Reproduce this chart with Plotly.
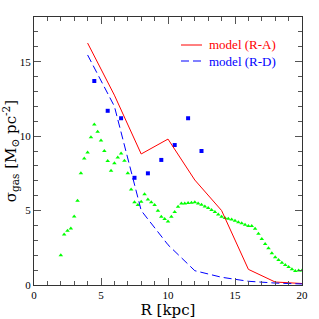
import plotly.graph_objects as go

model_x = [4, 6, 8, 10, 12, 14, 16, 18, 20]
model_ra = [16.25, 12.75, 8.8, 9.8, 7.05, 5.0, 1.05, 0.2, 0.1]
model_rd = [15.45, 12.0, 5.0, 2.7, 0.96, 0.52, 0.25, 0.13, 0.07]

obs_x = [4.5, 5.5, 6.5, 7.5, 8.5, 9.5, 10.5, 11.5, 12.5]
obs_y = [13.7, 11.7, 11.2, 7.2, 7.5, 8.4, 9.4, 11.2, 9.0]

tri_x = [2.0, 2.25, 2.5, 2.75, 3.0, 3.25, 3.5, 3.75, 4.0, 4.25, 4.5, 4.75,
         5.0, 5.25, 5.5, 5.75, 6.0, 6.25, 6.5, 6.75, 7.0, 7.25, 7.5, 7.75,
         8.0, 8.25, 8.5, 8.75, 9.0, 9.25, 9.5, 9.75, 10.0, 10.25, 10.5, 10.75,
         11.0, 11.25, 11.5, 11.75, 12.0, 12.25, 12.5, 12.75, 13.0, 13.25, 13.5, 13.75,
         14.0, 14.25, 14.5, 14.75, 15.0, 15.25, 15.5, 15.75, 16.0, 16.25, 16.5, 16.75,
         17.0, 17.25, 17.5, 17.75, 18.0, 18.25, 18.5, 18.75, 19.0, 19.25, 19.5, 19.75, 20.0]
tri_y = [2.0, 3.4, 3.65, 3.8, 4.6, 5.66, 7.5, 8.5, 8.9, 9.93, 10.78, 10.3,
         9.7, 9.0, 8.32, 7.67, 8.17, 8.57, 8.84, 8.34, 7.5, 6.42, 5.55, 5.37,
         5.59, 6.1, 5.75, 5.55, 5.37, 4.99, 4.59, 4.43, 4.27, 4.59, 4.9, 5.26,
         5.48, 5.48, 5.5, 5.53, 5.55, 5.48, 5.39, 5.28, 5.17, 5.03, 4.9, 4.74,
         4.59, 4.5, 4.45, 4.4, 4.32, 4.22, 4.14, 4.05, 3.96, 3.96, 3.78, 3.44,
         3.09, 2.75, 2.46, 2.13, 1.86, 1.68, 1.5, 1.34, 1.21, 1.05, 0.94, 0.97, 0.97]

legend_names = ["model (R-A)", "model (R-D)"]
legend_colors = ["#ff0000", "#0000ff"]

FONT = "Liberation Serif"
TFONT = "DejaVu Serif"

fig = go.Figure()
fig.add_trace(go.Scatter(x=tri_x, y=tri_y, mode="markers", showlegend=False,
                         marker=dict(symbol="triangle-up", size=4, color="#00ff00")))
fig.add_trace(go.Scatter(x=obs_x, y=obs_y, mode="markers", showlegend=False,
                         marker=dict(symbol="square", size=4, color="#0000ff")))
fig.add_trace(go.Scatter(x=model_x, y=model_ra, mode="lines", showlegend=False,
                         line=dict(color="#ff0000", width=1)))
fig.add_trace(go.Scatter(x=model_x, y=model_rd, mode="lines", showlegend=False,
                         line=dict(color="#0000ff", width=1, dash="8px,4px")))

# legend drawn in paper coordinates
L, R, T, B = 34, 302, 17, 285
W, H = R - L, B - T
def px(xp):
    return (xp - L) / W
def py(yp):
    return (B - yp) / H

dashes = ["solid", "8px,4px"]
for i, (nm, col) in enumerate(zip(legend_names, legend_colors)):
    yy = 45 + 16 * i
    fig.add_shape(type="line", xref="paper", yref="paper",
                  x0=px(181), x1=px(202), y0=py(yy), y1=py(yy),
                  line=dict(color=col, width=1, dash=dashes[i]))
    fig.add_annotation(xref="paper", yref="paper", x=px(207), y=py(yy),
                       xanchor="left", yanchor="middle", showarrow=False,
                       text=nm, font=dict(family=FONT, size=13, color=col))

axis_common = dict(showgrid=False, zeroline=False, showline=True, linecolor="#333",
                   linewidth=1, mirror="allticks", ticks="inside", ticklen=7,
                   tickcolor="#555", automargin=False,
                   tickfont=dict(family=FONT, size=11, color="black"))

fig.update_layout(
    width=319, height=319,
    margin=dict(l=L, r=319 - R, t=T, b=319 - B),
    paper_bgcolor="white", plot_bgcolor="white",
    font=dict(family=FONT, color="black"),
    showlegend=False,
    xaxis=dict(range=[0, 20], dtick=5,
               minor=dict(ticks="inside", dtick=1, ticklen=4, tickcolor="#555"),
               title=dict(text="R [kpc]", font=dict(family=TFONT, size=15)),
               **axis_common),
    yaxis=dict(range=[0, 18], dtick=5,
               minor=dict(ticks="inside", dtick=1, ticklen=4, tickcolor="#555"),
               title=dict(text="σ<sub>gas</sub> [M<sub>⊙</sub> pc<sup>-2</sup>]",
                          font=dict(family=TFONT, size=15)),
               **axis_common),
)

fig.write_html("out.html", config={"displayModeBar": False},
               post_script="document.body.style.margin='0';document.body.style.overflow='hidden';")
